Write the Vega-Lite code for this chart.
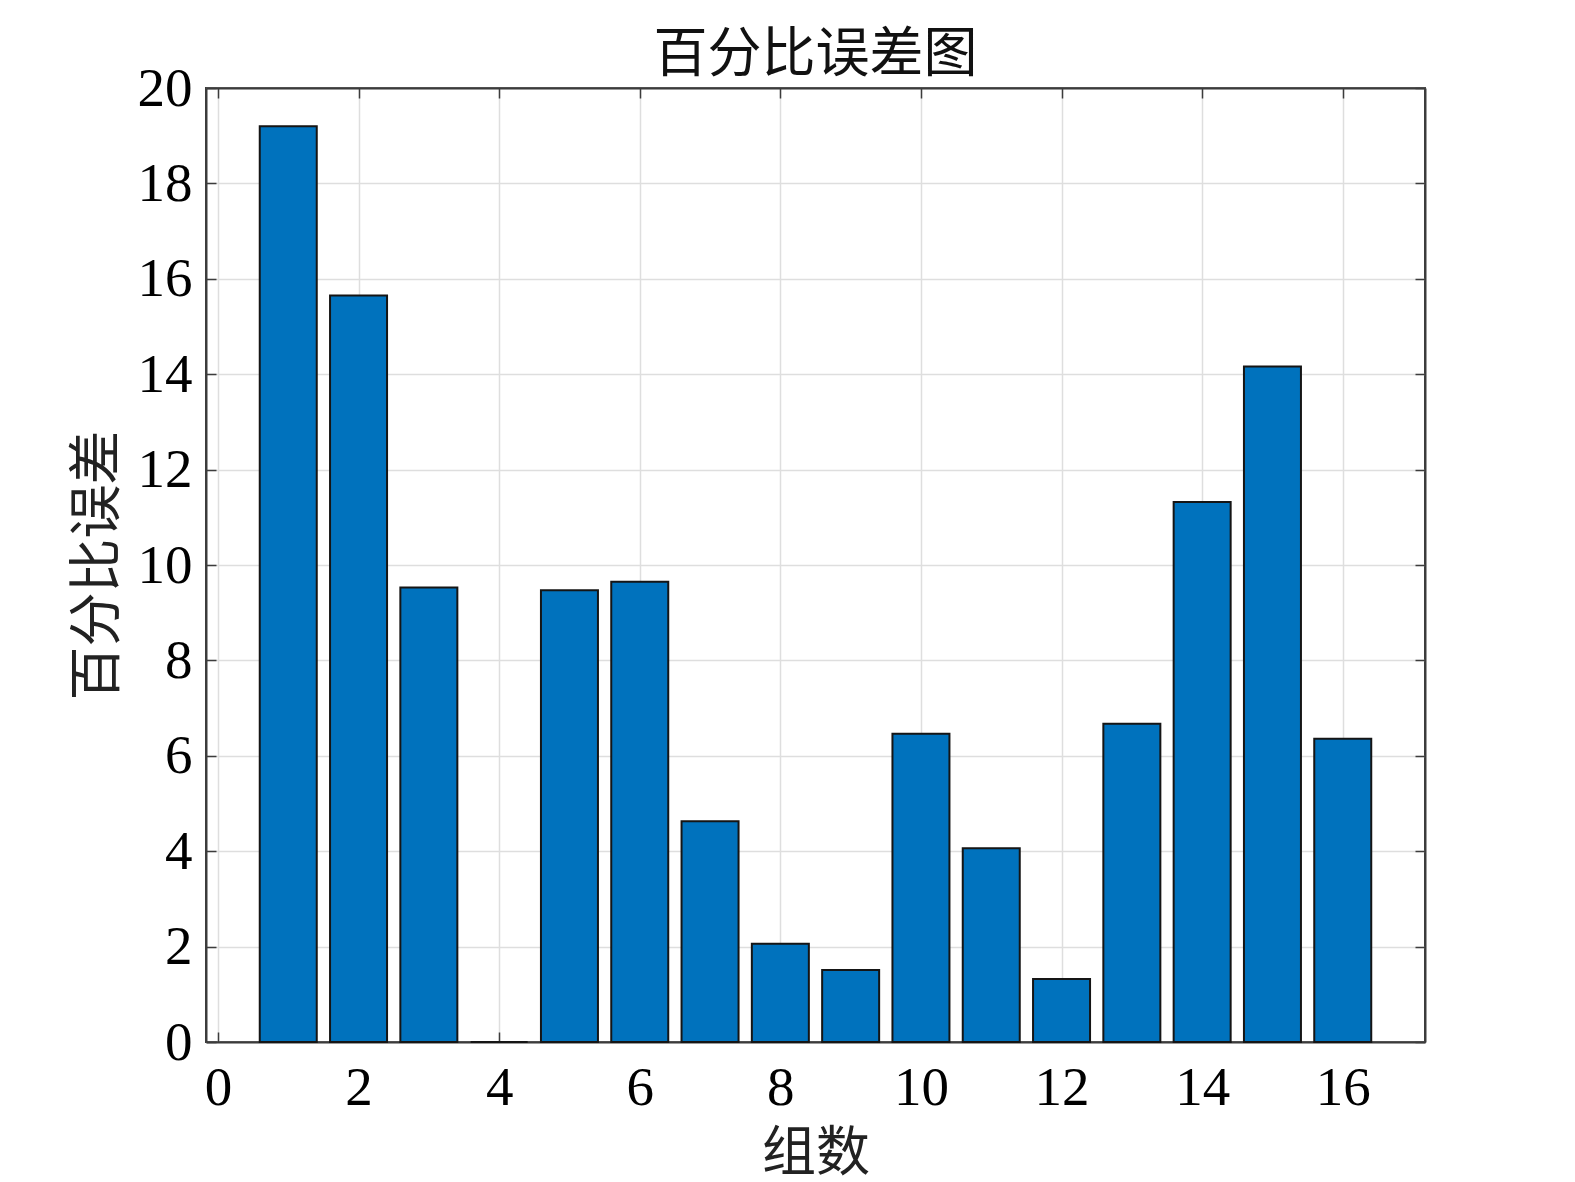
{
  "$schema": "https://vega.github.io/schema/vega-lite/v6.json",
  "width": 1219,
  "height": 954,
  "autosize": "none",
  "padding": {"left": 206, "top": 88, "right": 150, "bottom": 140},
  "background": "white",
  "title": {"text": "百分比误差图", "fontSize": 54, "font": "Liberation Serif, Noto Sans CJK SC", "fontWeight": "normal", "color": "#111111", "offset": -22},
  "config": {
    "view": {"stroke": "#3c3c3c", "strokeWidth": 2},
    "axis": {"labelFont": "Liberation Serif", "titleFont": "Liberation Serif, Noto Sans CJK SC", "labelColor": "#000000", "titleColor": "#222222", "titleFontWeight": "normal", "domainColor": "#3c3c3c", "domainWidth": 2, "tickColor": "#3c3c3c", "tickWidth": 1.5, "gridColor": "#dedede", "gridWidth": 1.5}
  },
  "data": {"values": [
    {"组数": 1, "百分比误差": 19.2},
    {"组数": 2, "百分比误差": 15.65},
    {"组数": 3, "百分比误差": 9.53},
    {"组数": 4, "百分比误差": 0},
    {"组数": 5, "百分比误差": 9.47},
    {"组数": 6, "百分比误差": 9.65},
    {"组数": 7, "百分比误差": 4.63},
    {"组数": 8, "百分比误差": 2.06},
    {"组数": 9, "百分比误差": 1.51},
    {"组数": 10, "百分比误差": 6.46},
    {"组数": 11, "百分比误差": 4.06},
    {"组数": 12, "百分比误差": 1.32},
    {"组数": 13, "百分比误差": 6.67},
    {"组数": 14, "百分比误差": 11.32},
    {"组数": 15, "百分比误差": 14.16},
    {"组数": 16, "百分比误差": 6.36}
  ]},
  "layer": [
    {
      "mark": {"type": "bar", "size": 57, "fill": "#0072BD", "stroke": "#151515", "strokeWidth": 2},
      "encoding": {
        "x": {"field": "组数", "type": "quantitative",
          "scale": {"domain": [-0.17, 17.17], "nice": false, "zero": false, "padding": 0},
          "axis": {"orient": "bottom", "values": [0, 2, 4, 6, 8, 10, 12, 14, 16], "tickSize": -10, "labelPadding": 29, "labelFontSize": 55, "titleFontSize": 54, "titlePadding": 12, "grid": true, "labelFlush": false, "title": "组数"}},
        "y": {"field": "百分比误差", "type": "quantitative",
          "scale": {"domain": [0, 20], "nice": false, "padding": 0},
          "axis": {"orient": "left", "values": [0, 2, 4, 6, 8, 10, 12, 14, 16, 18, 20], "tickSize": -10, "labelPadding": 24, "labelFontSize": 55, "titleFontSize": 54, "titlePadding": 12, "grid": true, "labelFlush": false, "title": "百分比误差"}}
      }
    },
    {
      "mark": {"type": "bar", "size": 57, "opacity": 0},
      "encoding": {
        "x": {"field": "组数", "type": "quantitative",
          "axis": {"orient": "top", "values": [0, 2, 4, 6, 8, 10, 12, 14, 16], "tickSize": -10, "labels": false, "grid": false, "title": null}},
        "y": {"field": "百分比误差", "type": "quantitative",
          "axis": {"orient": "right", "values": [0, 2, 4, 6, 8, 10, 12, 14, 16, 18, 20], "tickSize": -10, "labels": false, "grid": false, "title": null}}
      }
    }
  ],
  "resolve": {"axis": {"x": "independent", "y": "independent"}}
}
